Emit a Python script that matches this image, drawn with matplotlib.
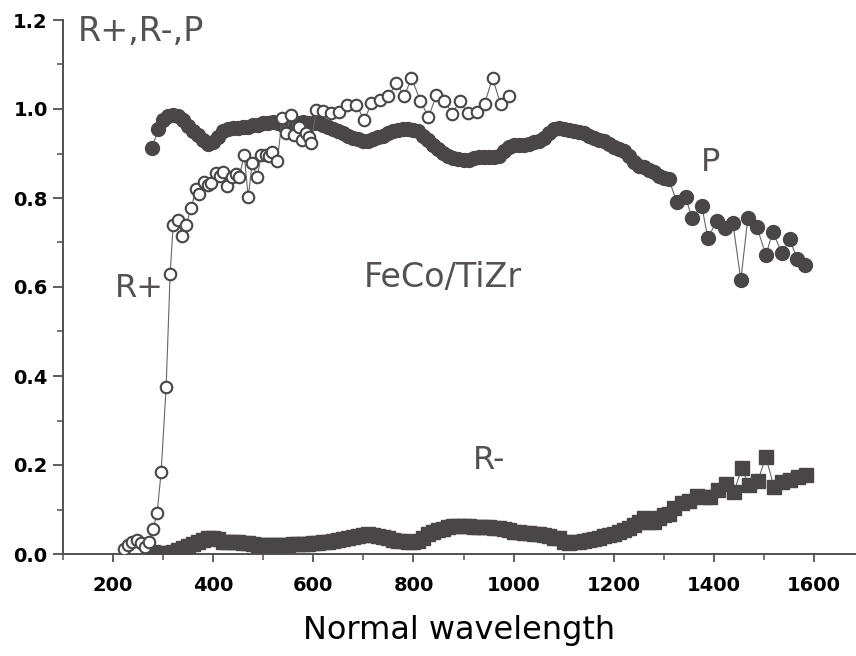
import numpy as np
import matplotlib
matplotlib.use("Agg")
import matplotlib.pyplot as plt
from matplotlib.ticker import MultipleLocator

# ---- data -------------------------------------------------------------
# Polarization P (filled circles)
p_wl = [278, 290, 300, 310, 320, 330, 340, 350, 360, 370, 380, 390, 400, 410, 420,
        430, 440, 450, 460, 470, 480, 490, 500, 510, 520, 530, 540, 550, 560, 570,
        580, 590, 600, 610, 620, 630, 640, 650, 660, 670, 680, 690, 700, 710, 720,
        730, 740, 750, 760, 770, 780, 790, 800, 810, 820, 830, 840, 850, 860, 870,
        880, 890, 900, 910, 920, 930, 940, 950, 960, 970, 980, 990, 1000, 1010, 1020,
        1030, 1040, 1050, 1060, 1070, 1080, 1090, 1100, 1110, 1120, 1130, 1140, 1150,
        1160, 1170, 1180, 1190, 1200, 1210, 1220, 1230, 1240, 1250, 1260, 1270, 1280,
        1290, 1300, 1310, 1326, 1344, 1356, 1376, 1388, 1406, 1422, 1438, 1454, 1468,
        1486, 1504, 1518, 1536, 1552, 1566, 1582]
p_val = [0.912, 0.955, 0.975, 0.985, 0.987, 0.985, 0.975, 0.962, 0.950, 0.942, 0.930,
         0.922, 0.925, 0.938, 0.950, 0.955, 0.958, 0.958, 0.960, 0.960, 0.963, 0.965,
         0.968, 0.968, 0.970, 0.968, 0.965, 0.965, 0.967, 0.968, 0.970, 0.968, 0.968,
         0.968, 0.965, 0.960, 0.955, 0.950, 0.945, 0.940, 0.935, 0.932, 0.928, 0.928,
         0.932, 0.936, 0.940, 0.945, 0.950, 0.953, 0.955, 0.955, 0.953, 0.950, 0.940,
         0.930, 0.920, 0.910, 0.902, 0.895, 0.890, 0.887, 0.885, 0.885, 0.890, 0.893,
         0.893, 0.892, 0.892, 0.895, 0.905, 0.915, 0.918, 0.918, 0.920, 0.922, 0.925,
         0.928, 0.935, 0.945, 0.955, 0.958, 0.955, 0.952, 0.950, 0.948, 0.945, 0.940,
         0.935, 0.930, 0.928, 0.922, 0.915, 0.910, 0.905, 0.895, 0.880, 0.872, 0.870,
         0.862, 0.858, 0.850, 0.845, 0.843, 0.791, 0.802, 0.755, 0.782, 0.710, 0.748,
         0.733, 0.744, 0.616, 0.755, 0.735, 0.672, 0.724, 0.676, 0.708, 0.663, 0.649]

# Reflectance R+ (open circles)
rp_wl = [222, 230, 238, 248, 256, 264, 272, 280, 288, 296, 306, 314, 320, 330, 338,
         346, 356, 366, 372, 382, 390, 396, 406, 414, 420, 428, 438, 446, 452, 462,
         470, 478, 488, 496, 506, 512, 518, 528, 538, 546, 556, 562, 572, 578, 586,
         592, 596, 606, 620, 636, 652, 668, 686, 702, 716, 734, 750, 766, 782, 796,
         814, 830, 846, 862, 878, 892, 908, 926, 942, 958, 974, 990]
rp_val = [0.011, 0.020, 0.027, 0.031, 0.025, 0.016, 0.027, 0.056, 0.092, 0.184, 0.375,
          0.629, 0.739, 0.750, 0.715, 0.739, 0.778, 0.820, 0.809, 0.836, 0.830, 0.834,
          0.856, 0.850, 0.858, 0.827, 0.847, 0.855, 0.847, 0.897, 0.802, 0.879, 0.847,
          0.897, 0.897, 0.895, 0.903, 0.883, 0.980, 0.946, 0.987, 0.942, 0.960, 0.930,
          0.945, 0.937, 0.924, 0.998, 0.995, 0.990, 0.993, 1.009, 1.009, 0.975, 1.013,
          1.020, 1.029, 1.058, 1.029, 1.070, 1.018, 0.982, 1.031, 1.018, 0.989, 1.018,
          0.991, 0.993, 1.011, 1.070, 1.011, 1.029]

# Reflectance R- (filled squares)
rm_wl = [280, 290, 300, 310, 320, 330, 340, 350, 360, 370, 380, 390, 400, 410, 420,
         430, 440, 450, 460, 470, 480, 490, 500, 510, 520, 530, 540, 550, 560, 570,
         580, 590, 600, 610, 620, 630, 640, 650, 660, 670, 680, 690, 700, 710, 720,
         730, 740, 750, 760, 770, 780, 790, 800, 810, 820, 830, 840, 850, 860, 870,
         880, 890, 900, 910, 920, 930, 940, 950, 960, 970, 980, 990, 1000, 1010, 1020,
         1030, 1040, 1050, 1060, 1070, 1080, 1090, 1100, 1110, 1120, 1130, 1140, 1150,
         1160, 1170, 1180, 1190, 1200, 1210, 1220, 1230, 1240, 1250, 1260, 1270, 1280,
         1290, 1300, 1310, 1320, 1336, 1350, 1366, 1380, 1392, 1408, 1424, 1440, 1456,
         1470, 1488, 1504, 1520, 1536, 1552, 1568, 1584]
rm_val = [0.004, 0.002, 0.001, 0.002, 0.005, 0.010, 0.014, 0.018, 0.022, 0.027, 0.032,
          0.036, 0.037, 0.033, 0.028, 0.027, 0.028, 0.026, 0.024, 0.024, 0.022, 0.021,
          0.020, 0.020, 0.020, 0.021, 0.021, 0.021, 0.022, 0.022, 0.022, 0.023, 0.024,
          0.025, 0.026, 0.028, 0.030, 0.032, 0.034, 0.037, 0.039, 0.041, 0.043, 0.044,
          0.043, 0.041, 0.038, 0.035, 0.032, 0.030, 0.029, 0.028, 0.028, 0.029, 0.035,
          0.045, 0.050, 0.054, 0.057, 0.060, 0.062, 0.063, 0.064, 0.063, 0.061, 0.060,
          0.061, 0.060, 0.058, 0.058, 0.056, 0.053, 0.050, 0.049, 0.048, 0.047, 0.046,
          0.044, 0.042, 0.040, 0.037, 0.035, 0.027, 0.025, 0.026, 0.028, 0.030, 0.032,
          0.034, 0.037, 0.040, 0.042, 0.046, 0.049, 0.053, 0.058, 0.066, 0.072, 0.080,
          0.073, 0.072, 0.082, 0.088, 0.090, 0.104, 0.115, 0.120, 0.130, 0.128, 0.128,
          0.144, 0.158, 0.139, 0.193, 0.154, 0.165, 0.218, 0.151, 0.162, 0.166, 0.172,
          0.178]

x_ticks = [200, 400, 600, 800, 1000, 1200, 1400, 1600]
y_ticks = [0.0, 0.2, 0.4, 0.6, 0.8, 1.0, 1.2]

# ---- style -------------------------------------------------------------
ink = "#4a4546"
line_c = "#6a6566"
text_c = "#555152"
plt.rcParams["font.family"] = ["DejaVu Sans"]

fig = plt.figure(figsize=(8.56, 6.56), dpi=100)
ax = fig.add_axes([63 / 856, 1 - 554 / 656, 1 - 63 / 856, (554 - 20) / 656])

ax.plot(rm_wl, rm_val, "-", color=line_c, lw=0.8, marker="s", ms=9.5,
        mfc=ink, mec=ink, zorder=3)
ax.plot(p_wl, p_val, "-", color=line_c, lw=0.8, marker="o", ms=10,
        mfc=ink, mec=ink, zorder=3)
ax.plot(rp_wl, rp_val, "-", color=line_c, lw=0.8, marker="o", ms=8.3,
        mfc="white", mec=ink, mew=1.5, zorder=4)

ax.set_xlim(100, 1684)
ax.set_ylim(0, 1.2)
ax.set_xticks(x_ticks)
ax.set_xticklabels([str(v) for v in x_ticks])
ax.set_yticks(y_ticks)
ax.set_yticklabels([f"{v:.1f}" for v in y_ticks])
ax.xaxis.set_minor_locator(MultipleLocator(100))
ax.yaxis.set_minor_locator(MultipleLocator(0.1))

for s in ("top", "right"):
    ax.spines[s].set_visible(False)
for s in ("left", "bottom"):
    ax.spines[s].set_color("#555050")
    ax.spines[s].set_linewidth(1.4)

ax.tick_params(axis="both", which="major", direction="out", width=1.3,
               color="#555050", labelsize=14, labelcolor="black")
ax.tick_params(axis="y", which="major", length=7, pad=4)
ax.tick_params(axis="y", which="minor", direction="out", length=4, width=1.1,
               color="#555050")
ax.tick_params(axis="x", which="major", length=6, pad=10)
ax.tick_params(axis="x", which="minor", direction="out", length=4, width=1.1,
               color="#555050")
for lab in ax.get_xticklabels() + ax.get_yticklabels():
    lab.set_fontweight("bold")

ax.set_xlabel("Normal wavelength", fontsize=23, color="black", labelpad=14)

ax.text(130, 1.175, "R+,R-,P", fontsize=24, color=text_c, ha="left", va="center")
ax.text(252, 0.596, "R+", fontsize=23, color=text_c, ha="center", va="center")
ax.text(1394, 0.880, "P", fontsize=23, color=text_c, ha="center", va="center")
ax.text(952, 0.211, "R-", fontsize=23, color=text_c, ha="center", va="center")
ax.text(858, 0.622, "FeCo/TiZr", fontsize=24, color=text_c, ha="center", va="center")

fig.savefig("out.png", dpi=100)
